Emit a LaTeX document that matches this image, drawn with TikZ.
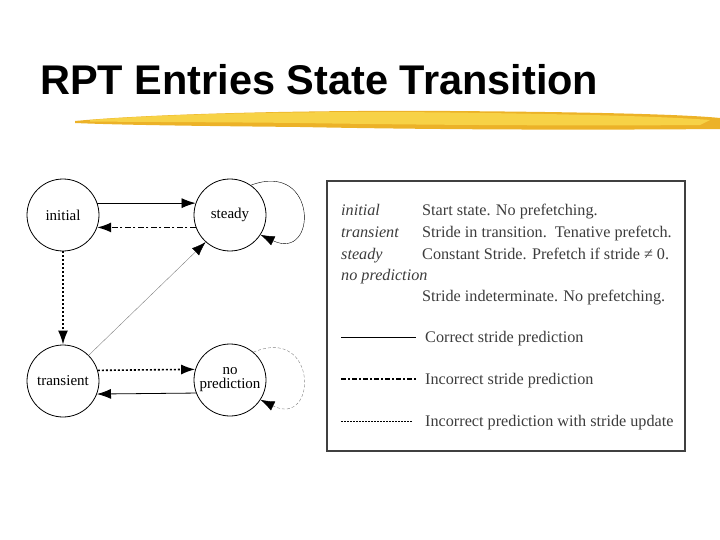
\documentclass[tikz,border=0pt]{standalone}
\usepackage{fontspec}
\setmainfont{Liberation Serif}
\newfontfamily\titlefont{Liberation Sans}
\usetikzlibrary{arrows.meta}
\definecolor{brushyellow}{RGB}{247,210,70}
\definecolor{brushorange}{RGB}{236,178,40}
\definecolor{legendtext}{RGB}{60,60,60}

\begin{document}
\begin{tikzpicture}[x=1pt, y=-1pt,
    state/.style={circle, draw=black, thick, minimum size=72pt, inner sep=0pt, align=center, font=\fontsize{15}{14}\selectfont},
    arrow/.style={-{Latex[length=14pt,width=10pt,black]}, thick},
    correct/.style={arrow},
    incorrect/.style={arrow, line width=1.3pt, dash pattern=on 6pt off 2.5pt on 2pt off 2.5pt},
    update/.style={arrow, line width=1.6pt, dash pattern=on 2pt off 2pt},
    legtext/.style={anchor=base west, inner sep=0pt, text=legendtext, font=\fontsize{16.2}{16}\selectfont},
    legname/.style={legtext, font=\fontsize{16.2}{16}\selectfont\itshape}
]
\useasboundingbox (0,0) rectangle (720,540);

% Title and brush stroke
\node[anchor=base west, inner sep=0pt, font=\titlefont\bfseries\fontsize{41.5}{41.5}\selectfont] (title) at (40,95) {RPT Entries State Transition};
\fill[brushorange] (75,121) .. controls (150,114) and (300,110) .. (450,111)
    .. controls (580,112) and (680,114) .. (720,118) -- (720,129)
    .. controls (600,130) and (450,130) .. (300,127)
    .. controls (200,126) and (120,125) .. (75,123) -- cycle;
\fill[brushyellow] (90,120) .. controls (180,113) and (320,111) .. (450,112.5)
    .. controls (560,114) and (660,116) .. (710,120) -- (700,125)
    .. controls (580,126) and (420,125) .. (300,123)
    .. controls (200,122) and (130,122) .. (90,121.5) -- cycle;

% States
\node[state] (initial) at (63,215) {initial};
\node[state] (steady) at (230,215) {steady};
\node[state] (transient) at (63,381) {transient};
\node[state] (nopred) at (230,380) {no\\prediction};

% Arrows
\draw[correct] (initial.19) -- (steady.161);
\draw[incorrect] (steady.200) -- (initial.-20);
\draw[update] (initial.south) -- (transient.north);
\draw[correct, thin, gray] (transient.45) -- (steady.228);
\draw[update] (transient.17) -- (nopred.163);
\draw[correct] (nopred.201) -- (transient.-21);
\draw[correct, thin] (steady.55) .. controls (318,160) and (318,262) .. (steady.-33);
\draw[correct, thin, gray, densely dashed] (nopred.50) .. controls (318,325) and (318,428) .. (nopred.-33);

% Legend
\node[draw=black!75, line width=1.6pt, minimum width=358pt, minimum height=270pt, inner sep=0pt] (legend) at (506,316) {};
\node[legname] (n1) at (341,215) {initial};
\node[legtext] (d1) at (422,215) {Start state. No prefetching.};
\node[legname] (n2) at (341,237) {transient};
\node[legtext] (d2) at (422,237) {Stride in transition.\ \ Tenative prefetch.};
\node[legname] (n3) at (341,259) {steady};
\node[legtext] (d3) at (422,259) {Constant Stride. Prefetch if stride ≠ 0.};
\node[legname] (n4) at (341,280) {no prediction};
\node[legtext] (d4) at (422,301) {Stride indeterminate. No prefetching.};
\node[legtext] (d5) at (425,342) {Correct stride prediction};
\node[legtext] (d6) at (425,384) {Incorrect stride prediction};
\node[legtext] (d7) at (425,426) {Incorrect prediction with stride update};
\coordinate (s1) at (341,337);
\coordinate (s2) at (341,379);
\coordinate (s3) at (341,421);
\draw[thin] (s1) -- ([xshift=-9pt]d5.west |- s1);
\draw[line width=1.3pt, dash pattern=on 5pt off 2pt on 2pt off 2pt] (s2) -- ([xshift=-9pt]d6.west |- s2);
\draw[line width=1pt, dash pattern=on 1.5pt off 1.5pt] (s3) -- ([xshift=-12pt]d7.west |- s3);

\end{tikzpicture}
\end{document}
